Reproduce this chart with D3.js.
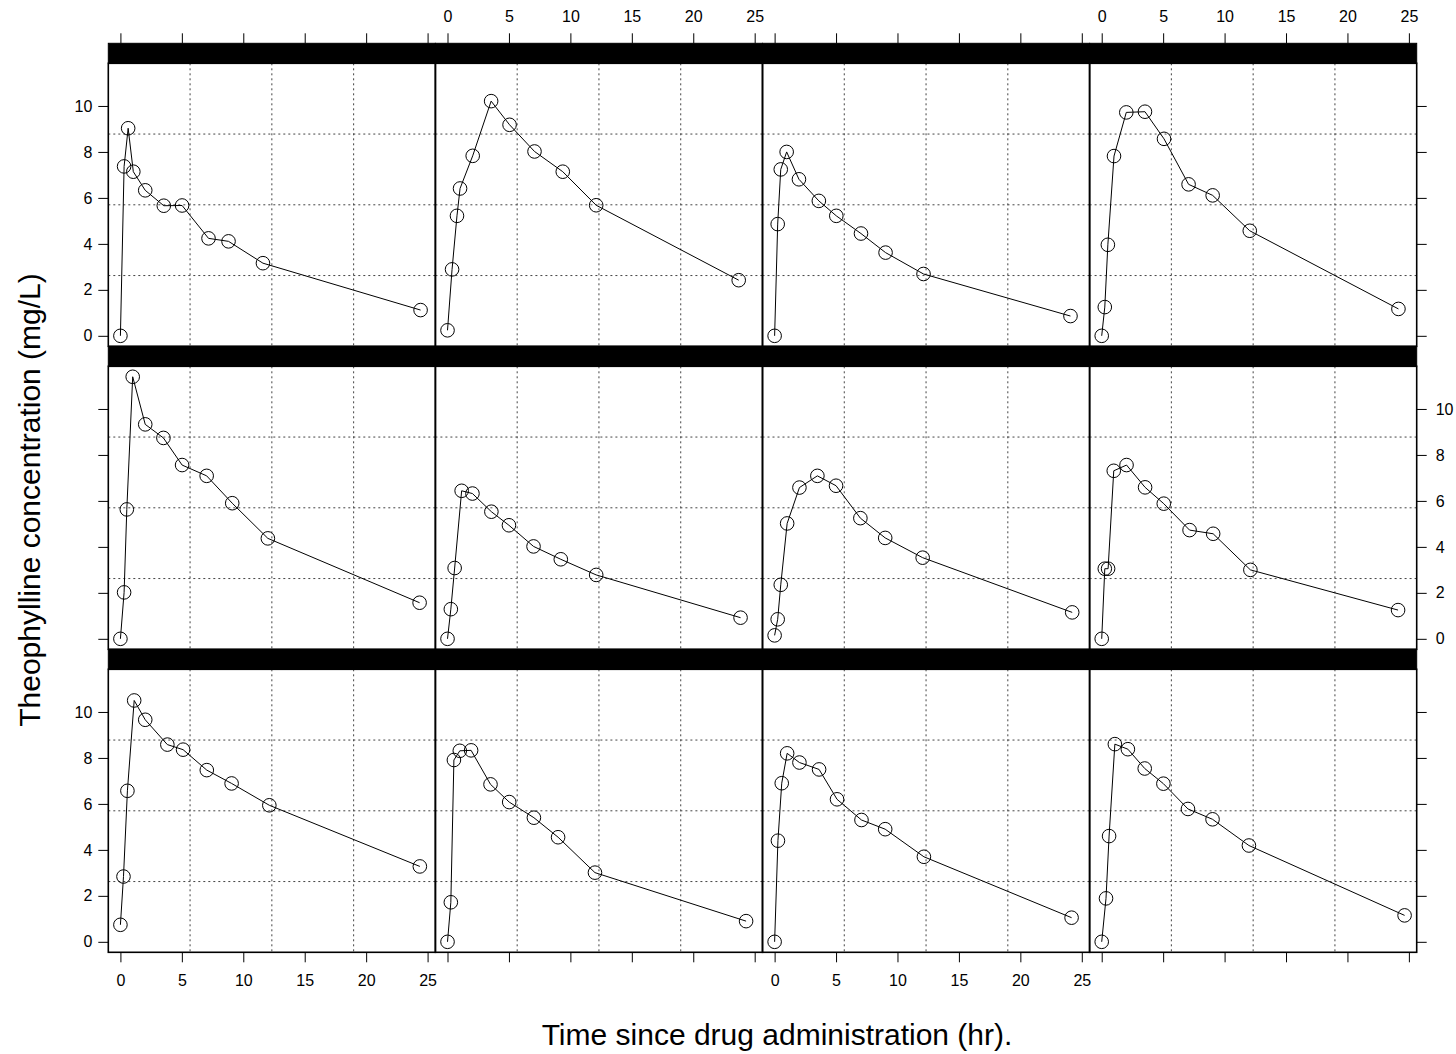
<!DOCTYPE html>
<html>
<head>
<meta charset="utf-8">
<script src="https://cdn.jsdelivr.net/npm/d3@7"></script>
<style>
  html, body { margin: 0; padding: 0; background: #fff; }
  svg { display: block; }
  text { font-family: "Liberation Sans", Arial, Helvetica, sans-serif; fill: #000; }
</style>
</head>
<body>
<svg id="chart" width="1456" height="1054"></svg>
<script>
// Theophylline pharmacokinetics: serum concentration over time, one panel per subject.
const subjects = ["1", "2", "3", "4", "5", "6", "7", "8", "9", "10", "11", "12"];

const timeHr = [
  [0.00, 0.25, 0.57, 1.12, 2.02, 3.82, 5.10, 7.03, 9.05, 12.12, 24.37],
  [0.00, 0.27, 0.52, 1.00, 1.92, 3.50, 5.02, 7.03, 9.00, 12.00, 24.30],
  [0.00, 0.27, 0.58, 1.02, 2.02, 3.62, 5.08, 7.07, 9.00, 12.15, 24.17],
  [0.00, 0.35, 0.60, 1.07, 2.13, 3.50, 5.02, 7.02, 9.02, 11.98, 24.65],
  [0.00, 0.30, 0.52, 1.00, 2.02, 3.50, 5.02, 7.02, 9.10, 12.00, 24.35],
  [0.00, 0.27, 0.58, 1.15, 2.03, 3.57, 5.00, 7.00, 9.22, 12.10, 23.85],
  [0.00, 0.25, 0.50, 1.02, 2.02, 3.48, 5.00, 6.98, 9.00, 12.05, 24.22],
  [0.00, 0.25, 0.52, 0.98, 2.02, 3.53, 5.05, 7.15, 9.07, 12.10, 24.12],
  [0.00, 0.30, 0.63, 1.05, 2.02, 3.53, 5.02, 7.17, 8.80, 11.60, 24.43],
  [0.00, 0.37, 0.77, 1.02, 2.05, 3.55, 5.05, 7.08, 9.38, 12.10, 23.70],
  [0.00, 0.25, 0.50, 0.98, 1.98, 3.60, 5.02, 7.03, 9.03, 12.12, 24.08],
  [0.00, 0.25, 0.50, 1.00, 2.00, 3.52, 5.07, 7.07, 9.03, 12.05, 24.15]
];

const concMgL = [
  [0.74, 2.84, 6.57, 10.50, 9.66, 8.58, 8.36, 7.47, 6.89, 5.94, 3.28],
  [0.00, 1.72, 7.91, 8.31, 8.33, 6.85, 6.08, 5.40, 4.55, 3.01, 0.90],
  [0.00, 4.40, 6.90, 8.20, 7.80, 7.50, 6.20, 5.30, 4.90, 3.70, 1.05],
  [0.00, 1.89, 4.60, 8.60, 8.38, 7.54, 6.88, 5.78, 5.33, 4.19, 1.15],
  [0.00, 2.02, 5.63, 11.40, 9.33, 8.74, 7.56, 7.09, 5.90, 4.37, 1.57],
  [0.00, 1.29, 3.08, 6.44, 6.32, 5.53, 4.94, 4.02, 3.46, 2.78, 0.92],
  [0.15, 0.85, 2.35, 5.02, 6.58, 7.09, 6.66, 5.25, 4.39, 3.53, 1.15],
  [0.00, 3.05, 3.05, 7.31, 7.56, 6.59, 5.88, 4.73, 4.57, 3.00, 1.25],
  [0.00, 7.37, 9.03, 7.14, 6.33, 5.66, 5.67, 4.24, 4.11, 3.16, 1.12],
  [0.24, 2.89, 5.22, 6.41, 7.83, 10.21, 9.18, 8.02, 7.14, 5.68, 2.42],
  [0.00, 4.86, 7.24, 8.00, 6.81, 5.87, 5.22, 4.45, 3.62, 2.69, 0.86],
  [0.00, 1.25, 3.96, 7.82, 9.72, 9.75, 8.57, 6.59, 6.11, 4.57, 1.17]
];

const xTicks = [0, 5, 10, 15, 20, 25];
const yTicks = [0, 2, 4, 6, 8, 10];
const xTitle = "Time since drug administration (hr).";
const yTitle = "Theophylline concentration (mg/L)";

// ---- layout ----
const nCol = 4, nRow = 3;
const gridLeft = 108.3, gridRight = 1416.7;
const gridTop = 43.3, gridBottom = 952.3;
const colW = (gridRight - gridLeft) / nCol;
const rowH = (gridBottom - gridTop) / nRow;
const stripH = 20;
const panelH = rowH - stripH;
const tickLen = 10;
const tickFont = 16;
const titleFont = 30;

const svg = d3.select("#chart");

// shared scales, padded 4% either side of the data range
function padded(ext) {
  const d = (ext[1] - ext[0]) * 0.04;
  return [ext[0] - d, ext[1] + d];
}
const xDomain = padded(d3.extent(timeHr.flat()));
const yDomain = padded(d3.extent(concMgL.flat()));

const x = d3.scaleLinear().domain(xDomain).range([0, colW]);
const y = d3.scaleLinear().domain(yDomain).range([panelH, 0]);

// panels fill from the bottom-left, row by row upwards
subjects.forEach((s, i) => {
  const col = i % nCol;
  const row = nRow - 1 - Math.floor(i / nCol);
  const px = gridLeft + col * colW;
  const stripY = gridTop + row * rowH;
  const py = stripY + stripH;

  const g = svg.append("g").attr("transform", `translate(${px},${py})`);

  // reference grid: three evenly spaced lines each way
  const gridG = g.append("g")
    .attr("stroke", "#444")
    .attr("stroke-width", 1)
    .attr("stroke-dasharray", "2,3");
  [1, 2, 3].forEach(k => {
    gridG.append("line")
      .attr("x1", colW * k / 4).attr("x2", colW * k / 4)
      .attr("y1", 0).attr("y2", panelH);
    gridG.append("line")
      .attr("x1", 0).attr("x2", colW)
      .attr("y1", panelH * k / 4).attr("y2", panelH * k / 4);
  });

  // concentration profile
  const pts = timeHr[i].map((t, j) => ({ t, c: concMgL[i][j] }));
  g.append("path")
    .datum(pts)
    .attr("fill", "none")
    .attr("stroke", "#000")
    .attr("stroke-width", 1)
    .attr("d", d3.line().x(d => x(d.t)).y(d => y(d.c)));

  g.selectAll("circle")
    .data(pts)
    .join("circle")
    .attr("cx", d => x(d.t))
    .attr("cy", d => y(d.c))
    .attr("r", 6.8)
    .attr("fill", "none")
    .attr("stroke", "#000")
    .attr("stroke-width", 1);

  // panel frame
  g.append("rect")
    .attr("x", 0).attr("y", 0)
    .attr("width", colW).attr("height", panelH)
    .attr("fill", "none")
    .attr("stroke", "#000")
    .attr("stroke-width", 1.6);

  // strip
  svg.append("rect")
    .attr("x", px).attr("y", stripY)
    .attr("width", colW).attr("height", stripH)
    .attr("fill", "#000")
    .attr("stroke", "#000")
    .attr("stroke-width", 1);
  svg.append("text")
    .attr("x", px + colW / 2).attr("y", stripY + stripH / 2 + 5)
    .attr("text-anchor", "middle")
    .style("font-size", "14px")
    .style("fill", "#000")
    .text(s);

  // left / right y axes: ticks everywhere, labels alternate by row
  const leftAxis = d3.axisLeft(y).tickValues(yTicks).tickSizeOuter(0).tickSize(tickLen).tickPadding(6);
  const rightAxis = d3.axisRight(y).tickValues(yTicks).tickSizeOuter(0).tickSize(tickLen).tickPadding(9);
  const labelRight = (row === 1);
  if (col === 0) {
    const a = g.append("g").call(leftAxis);
    if (labelRight) a.selectAll(".tick text").remove();
  }
  if (col === nCol - 1) {
    const a = g.append("g").attr("transform", `translate(${colW},0)`).call(rightAxis);
    if (!labelRight) a.selectAll(".tick text").remove();
  }

  // bottom / top x axes: labels alternate by column
  const labelBottom = (col % 2 === 0);
  if (row === nRow - 1) {
    const a = g.append("g").attr("transform", `translate(0,${panelH})`)
      .call(d3.axisBottom(x).tickValues(xTicks).tickSizeOuter(0).tickSize(tickLen).tickPadding(12));
    if (!labelBottom) a.selectAll(".tick text").remove();
  }
  if (row === 0) {
    const a = g.append("g").attr("transform", `translate(0,${-stripH})`)
      .call(d3.axisTop(x).tickValues(xTicks).tickSizeOuter(0).tickSize(tickLen).tickPadding(11));
    if (labelBottom) a.selectAll(".tick text").remove();
  }
});

// axis styling
svg.selectAll(".domain").remove();
svg.selectAll(".tick line").attr("stroke", "#000").attr("stroke-width", 1);
svg.selectAll(".tick text")
  .style("font-size", tickFont + "px")
  .style("font-family", "'Liberation Sans', Arial, Helvetica, sans-serif")
  .attr("fill", "#000");

// axis titles
svg.append("text")
  .attr("x", 777).attr("y", 1045)
  .attr("text-anchor", "middle")
  .style("font-size", titleFont + "px")
  .text(xTitle);

svg.append("text")
  .attr("transform", `translate(40,${500}) rotate(-90)`)
  .attr("text-anchor", "middle")
  .style("font-size", titleFont + "px")
  .text(yTitle);
</script>
</body>
</html>
